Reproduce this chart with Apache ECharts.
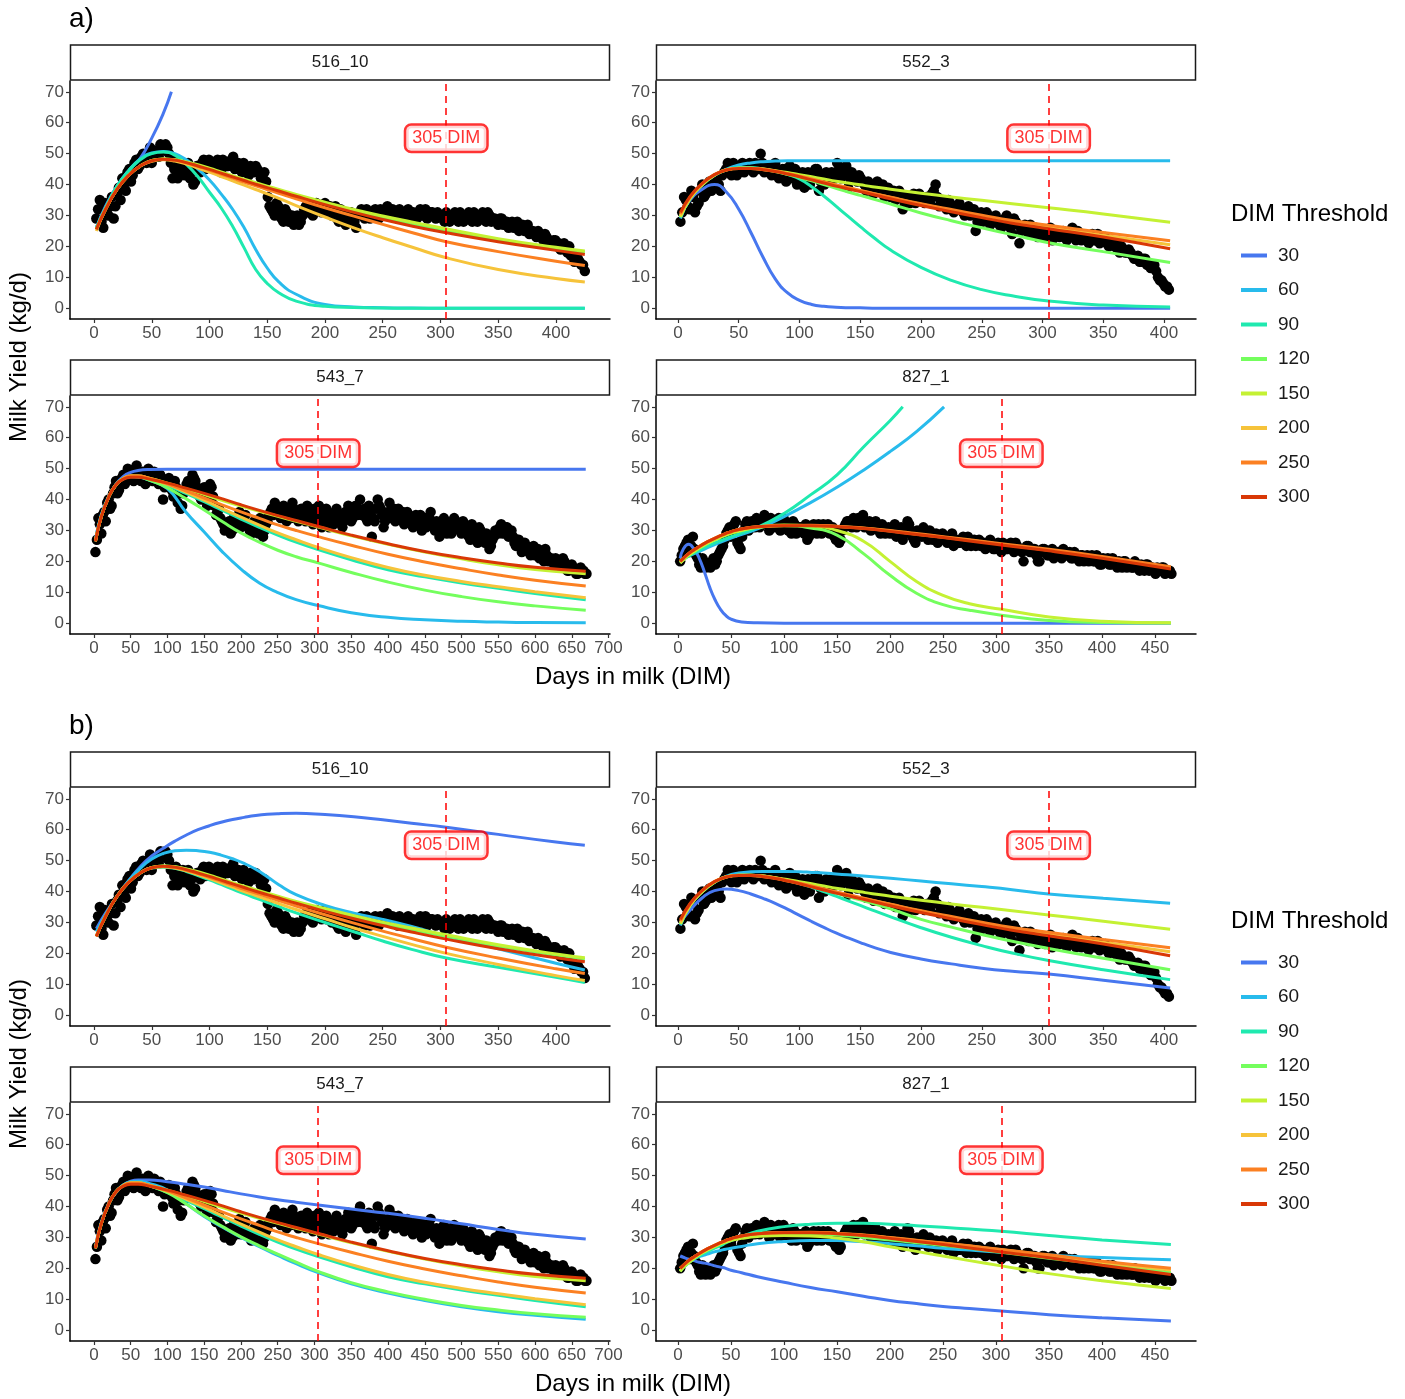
<!DOCTYPE html>
<html>
<head>
<meta charset="utf-8">
<script src="https://cdn.jsdelivr.net/npm/echarts@6/dist/echarts.min.js"></script>
<style>
  html, body { margin: 0; padding: 0; background: #fff; }
  #chart { width: 1405px; height: 1399px; }
</style>
</head>
<body>
<div id="chart"></div>
<script>
// DIM thresholds + turbo-like palette
const thresholds = ['30', '60', '90', '120', '150', '200', '250', '300'];
const lineColors = ['#4777EF', '#28BBEC', '#1FE9AF', '#74FE5D', '#C4F133', '#F6C33A', '#FB8022', '#D93806'];
const cows = ['516_10', '552_3', '543_7', '827_1'];
const yTicks = [0, 10, 20, 30, 40, 50, 60, 70];
const ticks400 = [0, 50, 100, 150, 200, 250, 300, 350, 400];
const ticks450 = [0, 50, 100, 150, 200, 250, 300, 350, 400, 450];
const ticks700 = [0, 50, 100, 150, 200, 250, 300, 350, 400, 450, 500, 550, 600, 650, 700];
const cutoffDim = 305;

// test-day records, two interleaved runs per cow (first DIM, step in days, yields kg/d)
const pts516 = [29,35,26,31,33,29,37,35,40,44,41,47,45,49,48,50,47,51,49,52,53,50,42,48,43,47,45,42,40,46,44,48,46,47,45,48,44,47,46,48,45,47,44,46,43,45,46,44,43,41,33,31,34,30,28,31,29,27,30,28,32,31,34,32,33,31,34,32,30,33,28,31,27,30,29,26,31,30,32,29,31,30,32,31,33,30,31,29,31,30,32,30,29,31,30,32,30,31,29,30,29,31,28,30,29,31,28,30,29,31,28,30,29,31,28,29,27,29,28,26,28,27,25,27,26,24,25,23,24,22,23,21,22,20,19,21,18,17,15,16,14,12];
const pts516b = [32,28,34,30,36,33,39,42,38,45,43,48,46,50,47,52,49,50,53,51,52,47,45,42,46,43,47,44,41,45,47,45,48,46,47,45,48,46,47,49,46,45,47,44,46,44,45,42,44,36,32,30,33,29,32,28,30,29,27,30,33,32,30,34,32,33,31,33,31,29,32,30,28,31,28,30,32,29,31,30,32,29,31,32,31,32,30,32,29,31,30,31,29,32,31,29,31,30,31,30,28,30,29,31,28,30,29,31,28,30,29,31,28,30,29,28,29,27,28,27,26,28,26,25,27,25,24,25,23,24,22,21,22,21,20,19,20,17,16,15,14];
const pts552 = [28,36,33,38,31,34,40,37,41,39,42,38,44,47,43,46,44,47,45,47,44,46,50,44,46,43,47,42,45,41,46,44,40,43,39,44,42,45,38,43,44,41,43,47,42,45,39,44,42,43,41,38,40,37,41,39,36,39,37,35,38,32,36,34,37,35,36,34,35,37,40,33,35,32,34,31,33,32,30,33,31,25,30,28,31,27,29,28,26,29,27,24,28,21,26,25,27,24,23,25,23,25,22,24,23,25,22,24,23,25,22,23,21,24,22,21,23,21,22,20,19,20,18,19,17,16,15,16,14,13,14,10,9,7,6];
const pts552b = [31,35,32,36,33,38,36,40,38,41,40,43,45,44,47,43,46,44,46,45,47,45,47,45,44,46,44,43,45,43,42,45,42,44,41,40,43,45,41,40,43,44,42,45,43,46,42,43,41,42,40,41,39,40,38,40,38,36,38,36,37,34,35,36,34,37,35,36,34,38,36,34,33,35,33,32,34,31,32,30,32,28,31,29,30,28,30,27,28,30,26,29,27,25,27,24,25,26,24,25,24,26,23,25,24,23,24,26,22,24,23,22,23,22,24,22,23,20,21,21,18,19,18,18,16,17,15,16,14,14,12,9,8,7];
const pts543 = [23,34,29,36,39,37,42,46,43,47,45,50,48,46,51,47,49,45,50,47,49,46,48,40,45,47,43,46,39,37,42,45,44,48,46,42,40,44,38,45,41,35,37,33,30,32,29,34,31,36,33,35,31,29,33,30,34,28,32,35,37,39,36,34,38,33,36,39,35,33,37,34,38,36,32,35,38,31,36,33,35,32,37,34,31,36,38,33,37,35,40,36,34,38,28,33,40,37,31,35,39,36,33,37,35,32,36,34,31,35,33,30,34,32,36,31,33,28,30,33,31,29,34,32,30,33,31,28,32,29,26,30,27,29,24,27,30,29,32,30,31,29,28,25,27,23,26,24,22,25,23,21,22,24,20,21,19,20,18,21,18,17,19,17,16,18,17,16];
const pts543b = [27,32,35,33,40,38,44,42,45,48,46,49,47,50,48,46,48,47,49,46,48,45,47,44,46,44,41,44,42,38,43,46,44,47,44,41,43,40,42,44,38,36,34,32,31,33,30,32,34,31,34,32,30,31,32,29,31,30,33,36,35,38,35,36,34,37,34,37,36,34,36,33,35,34,37,33,36,34,37,31,34,36,33,35,33,35,36,34,38,37,35,37,33,36,34,37,38,35,33,36,34,37,35,34,36,33,35,33,34,32,35,33,31,34,33,30,32,31,34,29,32,30,33,31,29,31,30,27,30,28,31,28,26,28,25,28,30,31,29,31,28,30,26,27,25,24,25,23,24,22,24,22,20,22,21,20,21,19,19,20,17,18,18,16,17,17,16];
const pts827 = [20,24,26,23,28,22,19,21,18,19,20,19,22,24,27,30,28,32,26,24,30,33,31,32,34,31,33,34,30,33,32,34,31,33,30,29,32,30,31,29,27,30,32,29,31,32,30,29,31,27,26,30,32,33,31,32,34,33,31,32,30,32,31,29,31,30,29,31,28,30,27,31,32,28,26,29,28,30,27,29,28,26,28,27,26,28,25,27,26,28,25,27,26,25,27,26,24,26,25,24,26,23,25,24,26,23,25,24,20,25,23,24,22,20,24,23,22,24,22,23,21,23,22,21,23,21,22,20,22,21,20,22,19,21,20,19,21,19,20,18,20,19,18,20,18,19,17,19,18,17,18,17,18,17,17];
const pts827b = [22,25,27,25,24,21,18,20,19,18,21,20,23,25,29,31,30,33,25,28,32,30,33,31,33,32,35,32,34,31,33,30,34,32,31,33,29,31,30,32,28,31,30,32,29,31,32,30,28,30,27,31,33,32,34,31,33,35,32,33,31,33,30,32,29,31,30,32,29,31,29,33,30,27,30,29,31,28,30,27,29,27,29,28,27,29,27,26,27,26,28,25,27,26,25,26,25,27,24,25,24,26,24,25,24,26,24,23,24,25,23,24,20,23,24,22,23,21,23,22,24,22,23,21,22,20,22,21,20,22,20,21,19,20,21,19,20,18,19,20,18,19,18,19,17,18,19,17,18,16,17,18,16,17,16];
const ptsStart = [2, 2, 2, 2];
const ptsStartB = [3.5, 3.5, 4, 3.5];
const ptsStep = [3, 3, 4, 3];

// DIM knots of the fitted curves
const dim516 = [2,10,20,30,40,50,60,70,80,90,100,110,120,130,140,150,160,175,200,225,250,275,305,350,400,425];
const dim552 = [2,10,20,30,40,50,60,70,80,90,100,110,120,130,140,150,160,175,200,225,250,275,305,350,405];
const dim543 = [2,10,20,30,40,50,60,75,100,125,150,175,200,225,250,275,305,350,400,450,500,550,600,669];
const dim827 = [2,5,10,15,20,25,30,35,40,45,50,60,75,100,125,150,175,200,225,250,275,305,350,400,465];

// a) fitted curves
const a516_30_dim = [2,10,20,30,40,50,60,67];
const a516_30 = [26,33,39.5,44.5,48.5,55,63,70];
const a516_60 = [26,32.5,39.5,44.5,48.3,50.2,50.7,50,48,45,41.5,37,32,26,19,13,8.5,4.5,1.2,0.4,0.15,0.05,0,0,0,0];
const a516_90 = [26,32.5,39.5,44.5,48,50,50.5,49.5,46.5,42.5,37.5,32.5,26.5,19.5,12.5,8,5,2.3,0.6,0.2,0.05,0,0,0,0,0];
const a516_120 = [25.5,32,38.5,43,46,47.8,48.3,48,47.2,46.2,45,43.8,42.5,41.3,40.1,39,37.9,36.3,33.8,31.4,29.3,27.4,25.2,22,19.3,18.1];
const a516_150 = [25.5,32,38.5,43,46,47.8,48.3,48,47.3,46.4,45.3,44.1,42.9,41.7,40.6,39.5,38.4,36.8,34.3,31.9,29.8,27.9,25.7,22.5,19.7,18.5];
const a516_200 = [25,32,38.5,43,46,47.5,48,47.6,46.6,45.3,44,42.6,41.2,39.8,38.4,37,35.5,33.2,29.5,26,22.8,19.8,16.3,12.5,9.6,8.5];
const a516_250 = [25.5,32,38.5,43,46,47.7,48.2,47.9,47,45.9,44.7,43.4,42.1,40.8,39.6,38.4,37.2,35.4,32.5,29.8,27.1,24.5,21.5,18.3,15.2,13.8];
const a516_300 = [25.5,32,38.5,43,46,47.7,48.2,47.9,47.1,46,44.9,43.7,42.5,41.3,40.1,39,37.9,36.2,33.5,31,28.7,26.6,24.4,21.5,18.7,17.4];

const a552_30 = [30,35,38.5,40,37.5,32,24.5,16.5,9.5,5,2.5,1.2,0.6,0.3,0.15,0.1,0,0,0,0,0,0,0,0,0];
const a552_60 = [29,35.5,40,43,45,46.3,47,47.4,47.6,47.7,47.7,47.7,47.7,47.7,47.7,47.7,47.7,47.7,47.7,47.7,47.7,47.7,47.7,47.7,47.7];
const a552_90 = [29.5,35.5,40,43,44.8,45.5,45.5,45,44.3,43.3,41.8,39.3,36.3,33,29.7,26.4,23.2,18.8,13.2,9,6,4,2.3,1,0.4];
const a552_120 = [29.5,35.5,40,43,44.8,45.3,45.3,44.9,44.2,43.3,42.3,41.2,40,38.8,37.6,36.5,35.4,33.7,30.8,28.3,26,23.8,21.2,18.3,14.8];
const a552_150 = [29.5,35.5,40,43,44.8,45.3,45.3,45,44.5,43.9,43.2,42.5,41.8,41.1,40.5,39.9,39.3,38.5,37.2,36,34.9,33.8,32.5,30.5,27.8];
const a552_200 = [30,35.8,40.2,43.2,44.8,45.2,45.2,44.9,44.3,43.5,42.6,41.7,40.7,39.8,38.9,38,37.1,35.8,33.6,31.6,29.7,27.9,26.2,23.6,20.5];
const a552_250 = [30.5,36,40.3,43.2,44.8,45.3,45.3,45,44.4,43.6,42.7,41.8,40.8,39.9,39,38.1,37.2,35.9,33.8,31.9,30.1,28.4,26.8,24.5,21.8];
const a552_300 = [31,36.2,40.4,43.2,44.7,45.2,45.2,44.8,44.2,43.4,42.5,41.5,40.5,39.5,38.6,37.7,36.8,35.4,33.2,31.2,29.3,27.5,25.7,23,19.2];

const a543_30 = [27,35,41,45,47.5,48.8,49.4,49.7,49.8,49.8,49.8,49.8,49.8,49.8,49.8,49.8,49.8,49.8,49.8,49.8,49.8,49.8,49.8,49.8];
const a543_60 = [27,35,41,44.8,46.8,47.4,47.3,46.3,43.5,36,29.5,23,17.5,13,9.9,7.6,5.7,3.4,1.9,1.1,0.6,0.35,0.2,0.1];
const a543_90 = [26.5,34.5,40.8,44.8,46.8,47.5,47.4,46.5,44.5,42,39.3,36.5,33.7,31,28.5,26.2,23.8,20.5,17.3,15,13,11.3,9.6,7.6];
const a543_120 = [26.5,34.5,40.8,44.8,46.8,47.5,47.4,46.3,43.8,40.3,36.6,32.8,29.2,26.2,23.6,21.5,19.5,16.4,13.3,10.7,8.6,6.9,5.6,4.2];
const a543_150 = [26.5,34.5,40.8,44.8,46.8,47.6,47.6,46.9,45.3,43.5,41.6,39.7,37.9,36.2,34.6,33,31.1,28.3,25.5,23,20.8,18.9,17.4,16];
const a543_200 = [26.5,34.5,40.8,44.8,46.8,47.6,47.6,46.8,44.9,42.4,39.8,37,34.3,31.7,29.2,27,24.5,21.2,18,15.5,13.5,11.8,10.2,8.2];
const a543_250 = [26.5,34.5,40.8,44.8,46.8,47.6,47.6,46.9,45.1,42.8,40.5,38.2,36,33.9,31.8,30,28,25.2,22.3,19.8,17.6,15.6,13.9,12];
const a543_300 = [26.5,34.5,40.8,44.8,46.6,47.2,47.2,46.6,45.3,43.7,42,40.2,38.3,36.5,34.8,33.2,31.3,28.5,25.7,23.2,21.2,19.5,18.1,16.8];

const a827_30 = [21,24,25.5,24,21,16.5,11.5,7.5,4.5,2.5,1.3,0.4,0.1,0,0,0,0,0,0,0,0,0,0,0,0];
const a827_60_dim = [2,25,50,75,100,125,150,175,200,225,251];
const a827_60 = [20.5,24,27.5,30.5,34.5,39,44,49.5,55.5,62,70];
const a827_90_dim = [2,25,50,75,100,125,150,175,200,212];
const a827_90 = [20,24.5,28,31,35.5,41.5,48,57,65.5,70];
const a827_120 = [19.5,20.5,22,23.2,24.3,25.3,26.2,27,27.8,28.5,29.1,30,31,31.5,30.8,28.5,22.5,15.5,9.7,6,4.2,2.6,0.9,0.25,0.05];
const a827_150 = [19.5,20.5,22,23.2,24.3,25.3,26.2,27,27.8,28.5,29.1,30,31,31.8,31.5,30,26.5,20,13.5,9,6.3,4.5,2,0.6,0.1];
const a827_200 = [20,21,22.5,23.7,24.8,25.8,26.7,27.5,28.3,29,29.6,30.5,31.2,31.6,31.6,31.3,30.7,29.8,28.8,27.8,26.8,25.5,23.6,21.3,17.8];
const a827_250 = [20,21,22.5,23.7,24.8,25.8,26.7,27.5,28.3,29,29.6,30.5,31.2,31.6,31.7,31.4,30.8,30,29,28,27,25.7,23.9,21.6,18.3];
const a827_300 = [20,21,22.5,23.7,24.8,25.8,26.7,27.5,28.3,29,29.6,30.5,31.2,31.5,31.5,31.2,30.6,29.7,28.7,27.7,26.6,25.3,23.4,21,17.5];

// b) fitted curves
const b516_30 = [28,33,38.5,43.5,48,51.5,54,56.3,58.3,60,61.3,62.4,63.3,64,64.6,65,65.2,65.3,64.9,64.2,63.2,62.1,60.8,58.5,56,55];
const b516_60 = [27,32.5,38.5,43.5,47.5,50.5,52.3,53.2,53.4,53.2,52.7,51.8,50.6,49.1,47.2,44.8,42.2,39,35.5,33,31,28.7,25.6,21.5,16.8,14.6];
const b516_90 = [25.5,32,38.5,43,46,47.6,47.9,47.5,46.5,45.2,43.8,42.3,40.8,39.3,37.9,36.5,35.1,33.1,30,27,24,21.3,18.5,15.5,12.3,10.6];
const b516_120 = [25.5,32,38.5,43,46,47.8,48.3,48,47.2,46.2,45,43.8,42.5,41.3,40.1,39,37.9,36.3,33.9,31.6,29.5,27.6,25.5,22.4,19.5,18.2];
const b516_150 = [25.5,32,38.5,43,46,47.8,48.3,48,47.3,46.4,45.3,44.1,42.9,41.7,40.6,39.5,38.4,36.8,34.5,32.2,30.1,28.2,26,22.8,19.8,18.6];
const b516_200 = [25.5,32,38.5,43,46,47.7,48,47.6,46.7,45.5,44.2,42.8,41.4,40,38.7,37.4,36.1,34.2,31.2,28.2,25.5,22.9,20,16.4,12.8,11.2];
const b516_250 = [25.5,32,38.5,43,46,47.7,48.1,47.8,46.9,45.8,44.6,43.3,42,40.7,39.5,38.3,37.1,35.3,32.5,29.8,27.2,24.8,22,18.5,15,13.5];
const b516_300 = [25.5,32,38.5,43,46,47.7,48.2,47.9,47.1,46,44.9,43.7,42.5,41.3,40.1,39,37.9,36.2,33.6,31.2,29,26.9,24.6,21.5,18.6,17.3];

const b552_30 = [30,34,38,40.3,40.8,40.3,39.2,37.8,36.2,34.3,32.3,30.3,28.4,26.6,25,23.5,22.1,20.3,18.2,16.6,15.2,14.2,13.3,11.3,8.8];
const b552_60 = [29,35.5,40,43,45,46,46.4,46.5,46.5,46.5,46.4,46.2,46,45.7,45.4,45.1,44.8,44.3,43.4,42.5,41.6,40.6,39.2,37.8,36.2];
const b552_90 = [29.5,35.5,40,43,44.8,45.3,45.3,45,44.4,43.6,42.6,41.4,40,38.5,37,35.5,34,31.8,28.3,25.2,22.5,20.1,17.7,14.7,11.5];
const b552_120 = [29.5,35.5,40,43,44.8,45.3,45.3,45,44.4,43.6,42.7,41.7,40.6,39.5,38.4,37.3,36.2,34.4,31,28.5,26.1,23.9,21.6,18.4,14.7];
const b552_150 = [29.5,35.5,40,43,44.8,45.3,45.3,45,44.5,43.9,43.2,42.5,41.8,41.1,40.5,39.9,39.3,38.5,37.2,36,34.9,33.8,32.4,30.4,27.8];
const b552_200 = [30,35.8,40.2,43.2,44.8,45.2,45.2,44.9,44.3,43.5,42.6,41.7,40.7,39.8,38.9,38,37.1,35.8,33.6,31.6,29.7,27.9,26.2,23.6,20.5];
const b552_250 = [30.5,36,40.3,43.2,44.8,45.3,45.3,45,44.4,43.6,42.7,41.8,40.8,39.9,39,38.1,37.2,35.9,33.8,31.9,30.1,28.4,26.8,24.5,21.8];
const b552_300 = [31,36.2,40.4,43.2,44.7,45.2,45.2,44.8,44.2,43.4,42.5,41.5,40.5,39.5,38.6,37.7,36.8,35.4,33.2,31.2,29.3,27.5,25.7,23,19.2];

const b543_30 = [27,35,41,44.5,47,48.2,48.6,48.6,48,47.2,46.3,45.2,44.1,43.1,42.2,41.4,40.5,39.2,37.8,36.2,34.4,32.6,31,29.5];
const b543_60 = [26.5,34.5,40.8,44.8,47,48,48.2,47.5,45.3,41,36.8,33.3,30,27,24.2,21.5,18.6,15,12,9.6,7.6,6,4.8,3.5];
const b543_90 = [26.5,34.5,40.8,44.8,46.8,47.6,47.6,46.8,44.6,42,39.3,36.5,33.7,31,28.5,26.2,23.8,20.5,17.3,15,13,11.3,9.6,7.6];
const b543_120 = [26.5,34.5,40.8,44.8,46.8,47.6,47.6,46.8,44.5,40.9,37,33.5,30.2,27.3,24.6,22,19,15.4,12.4,10,8,6.5,5.3,4.2];
const b543_150 = [26.5,34.5,40.8,44.8,46.8,47.6,47.6,46.9,45.3,43.5,41.6,39.7,37.9,36.2,34.6,33,31.1,28.3,25.5,23,20.8,18.9,17.4,16];
const b543_200 = [26.5,34.5,40.8,44.8,46.8,47.6,47.6,46.8,44.9,42.4,39.8,37,34.3,31.7,29.2,27,24.5,21.2,18,15.5,13.5,11.8,10.2,8.2];
const b543_250 = [26.5,34.5,40.8,44.8,46.8,47.6,47.6,46.9,45.1,42.8,40.5,38.2,36,33.9,31.8,30,28,25.2,22.3,19.8,17.6,15.6,13.9,12];
const b543_300 = [26.5,34.5,40.8,44.8,46.6,47.2,47.2,46.6,45.3,43.7,42,40.2,38.3,36.5,34.8,33.2,31.3,28.5,25.7,23.2,21.2,19.5,18.1,16.8];

const b827_30 = [24,23.6,23,22.5,22,21.7,21.3,20.8,20.4,20,19.4,18.6,17.3,15.5,13.8,12.4,11,9.6,8.6,7.7,7,6.2,5,4,3];
const b827_60 = [20,20.8,22,23,23.8,24.3,24.9,25.4,25.8,26.2,26.5,27.1,28,28.7,29,29,28.6,28,27.3,26.5,25.9,25.2,24.3,23.5,22.8];
const b827_90 = [19,20.2,21.8,23,24,25,25.8,26.6,27.3,28.2,29,30.3,32,33.5,34.3,34.6,34.6,34.3,33.8,33.3,32.7,32,30.6,29.2,27.7];
const b827_120 = [19.3,20.5,22,23.3,24.5,25.5,26.4,27.2,28,28.7,29.3,30.3,31,31.3,31.2,30.8,30,29.2,28.3,27.4,26.5,25.2,23.3,21.3,18.7];
const b827_150 = [19,20.3,21.8,23.2,24.4,25.4,26.3,27.1,27.9,28.5,29,29.7,30.3,30.6,30.5,29.8,28.6,27,25.5,24,22.5,20.8,18.3,16,13.5];
const b827_200 = [20,21,22.5,23.7,24.8,25.8,26.7,27.5,28.3,29,29.6,30.5,31.2,31.6,31.6,31.3,30.7,29.9,29,28.1,27.2,26,24.2,22,19.5];
const b827_250 = [20,21,22.5,23.7,24.8,25.8,26.7,27.5,28.3,29,29.6,30.5,31.2,31.6,31.7,31.4,30.8,30,29.1,28.2,27.3,26.1,24.4,22.3,20];
const b827_300 = [20,21,22.5,23.7,24.8,25.8,26.7,27.5,28.3,29,29.6,30.5,31.2,31.5,31.5,31.2,30.6,29.7,28.7,27.7,26.6,25.3,23.4,21,18];

// ---- layout ----
const FONT = '"Liberation Sans", Arial, Helvetica, sans-serif';
const colLeft = [70, 656];
const rowTop = [81, 396];
const partShift = 707;
const gridW = 540, gridH = 238;
const xRanges = [[-20.8, 446.8], [-18.1, 426.3], [-32.6, 702], [-20.8, 488.7]];
const xTicks = [ticks400, ticks400, ticks700, ticks450];

const ptsList = [pts516, pts552, pts543, pts827];
const ptsListB = [pts516b, pts552b, pts543b, pts827b];
const curveTable = [
  [
    [[a516_30_dim, a516_30], [dim516, a516_60], [dim516, a516_90], [dim516, a516_120], [dim516, a516_150], [dim516, a516_200], [dim516, a516_250], [dim516, a516_300]],
    [[dim552, a552_30], [dim552, a552_60], [dim552, a552_90], [dim552, a552_120], [dim552, a552_150], [dim552, a552_200], [dim552, a552_250], [dim552, a552_300]],
    [[dim543, a543_30], [dim543, a543_60], [dim543, a543_90], [dim543, a543_120], [dim543, a543_150], [dim543, a543_200], [dim543, a543_250], [dim543, a543_300]],
    [[dim827, a827_30], [a827_60_dim, a827_60], [a827_90_dim, a827_90], [dim827, a827_120], [dim827, a827_150], [dim827, a827_200], [dim827, a827_250], [dim827, a827_300]]
  ],
  [
    [[dim516, b516_30], [dim516, b516_60], [dim516, b516_90], [dim516, b516_120], [dim516, b516_150], [dim516, b516_200], [dim516, b516_250], [dim516, b516_300]],
    [[dim552, b552_30], [dim552, b552_60], [dim552, b552_90], [dim552, b552_120], [dim552, b552_150], [dim552, b552_200], [dim552, b552_250], [dim552, b552_300]],
    [[dim543, b543_30], [dim543, b543_60], [dim543, b543_90], [dim543, b543_120], [dim543, b543_150], [dim543, b543_200], [dim543, b543_250], [dim543, b543_300]],
    [[dim827, b827_30], [dim827, b827_60], [dim827, b827_90], [dim827, b827_120], [dim827, b827_150], [dim827, b827_200], [dim827, b827_250], [dim827, b827_300]]
  ]
];

const grid = [], xAxis = [], yAxis = [], series = [], graphic = [];

for (let part = 0; part < 2; part++) {
  cows.forEach((cow, c) => {
    const idx = grid.length;
    const left = colLeft[c % 2];
    const top = rowTop[Math.floor(c / 2)] + part * partShift;
    grid.push({ left: left, top: top, width: gridW, height: gridH });

    xAxis.push({
      type: 'value', gridIndex: idx, min: xRanges[c][0], max: xRanges[c][1],
      axisLine: { show: true, onZero: false, lineStyle: { color: '#000', width: 1.5 } },
      axisTick: { show: true, length: 4, customValues: xTicks[c], lineStyle: { color: '#333', width: 1.2 } },
      axisLabel: { customValues: xTicks[c], color: '#4d4d4d', fontSize: 17, margin: 6, fontFamily: FONT },
      splitLine: { show: false }
    });
    yAxis.push({
      type: 'value', gridIndex: idx, min: -3.5, max: 73.5,
      axisLine: { show: true, onZero: false, lineStyle: { color: '#000', width: 1.5 } },
      axisTick: { show: true, length: 4, customValues: yTicks, lineStyle: { color: '#333', width: 1.2 } },
      axisLabel: { customValues: yTicks, color: '#4d4d4d', fontSize: 17, margin: 6, fontFamily: FONT },
      splitLine: { show: false }
    });

    // observed test days
    const obs = ptsList[c].map((y, i) => [ptsStart[c] + ptsStep[c] * i, y])
      .concat(ptsListB[c].map((y, i) => [ptsStartB[c] + ptsStep[c] * i, y]));
    series.push({
      type: 'scatter', xAxisIndex: idx, yAxisIndex: idx, silent: true, z: 1,
      symbolSize: 10.5, itemStyle: { color: '#000', opacity: 1 },
      data: obs
    });

    // fitted curves per threshold
    curveTable[part][c].forEach((cv, t) => {
      series.push({
        name: thresholds[t], type: 'line', xAxisIndex: idx, yAxisIndex: idx,
        color: lineColors[t], showSymbol: false, symbol: 'none', silent: true, z: 2,
        smooth: 0.5,
        lineStyle: { width: 3, color: lineColors[t], cap: 'butt', join: 'round' },
        data: cv[0].map((d, i) => [d, cv[1][i]])
      });
    });

    // 305 DIM marker
    series.push({
      type: 'scatter', xAxisIndex: idx, yAxisIndex: idx, silent: true, z: 10,
      symbol: 'rect', symbolSize: 1, itemStyle: { color: 'rgba(255,255,255,0)' },
      data: [[cutoffDim, 55]],
      label: {
        show: true, position: 'inside', formatter: '305 DIM',
        color: '#ff0000', fontSize: 18, fontFamily: FONT,
        backgroundColor: '#fff', borderColor: '#ff0000', borderWidth: 2.5, borderRadius: 5,
        padding: [4, 6, 3, 6]
      },
      markLine: {
        silent: true, symbol: ['none', 'none'], label: { show: false },
        lineStyle: { color: '#ff0000', type: [7, 5], width: 1.5 },
        data: [{ xAxis: cutoffDim }]
      }
    });

    // facet strip
    graphic.push({
      type: 'rect', shape: { x: left + 0.5, y: top - 36, width: gridW - 1, height: 35 },
      style: { fill: '#fff', stroke: '#1a1a1a', lineWidth: 1.5 }
    });
    graphic.push({
      type: 'text', x: left + gridW / 2, y: top - 18.5,
      style: { text: cow, fontSize: 17, fontFamily: FONT, fill: '#1a1a1a', align: 'center', verticalAlign: 'middle' }
    });
  });

  const off = part * partShift;
  graphic.push({
    type: 'text', x: 69, y: 19 + off,
    style: { text: part === 0 ? 'a)' : 'b)', fontSize: 28, fontFamily: FONT, fill: '#000', align: 'left', verticalAlign: 'middle' }
  });
  graphic.push({
    type: 'text', x: 19, y: 357 + off, rotation: Math.PI / 2,
    style: { text: 'Milk Yield (kg/d)', fontSize: 24, fontFamily: FONT, fill: '#000', align: 'center', verticalAlign: 'middle' }
  });
  graphic.push({
    type: 'text', x: 633, y: 677 + off,
    style: { text: 'Days in milk (DIM)', fontSize: 24, fontFamily: FONT, fill: '#000', align: 'center', verticalAlign: 'middle' }
  });
  graphic.push({
    type: 'text', x: 1231, y: 214 + off,
    style: { text: 'DIM Threshold', fontSize: 24, fontFamily: FONT, fill: '#000', align: 'left', verticalAlign: 'middle' }
  });
}

const legend = [0, 1].map(part => ({
  data: thresholds, orient: 'vertical', left: 1236, top: 241 + part * partShift,
  icon: 'rect', itemWidth: 26, itemHeight: 4, itemGap: 15.5,
  selectedMode: false,
  textStyle: { fontSize: 19, color: '#1a1a1a', fontFamily: FONT, padding: [0, 0, 0, 6] }
}));

const chart = echarts.init(document.getElementById('chart'), null, { renderer: 'canvas' });
chart.setOption({
  backgroundColor: '#fff',
  animation: false,
  textStyle: { fontFamily: FONT },
  grid: grid,
  xAxis: xAxis,
  yAxis: yAxis,
  legend: legend,
  series: series,
  graphic: graphic
});
</script>
</body>
</html>
